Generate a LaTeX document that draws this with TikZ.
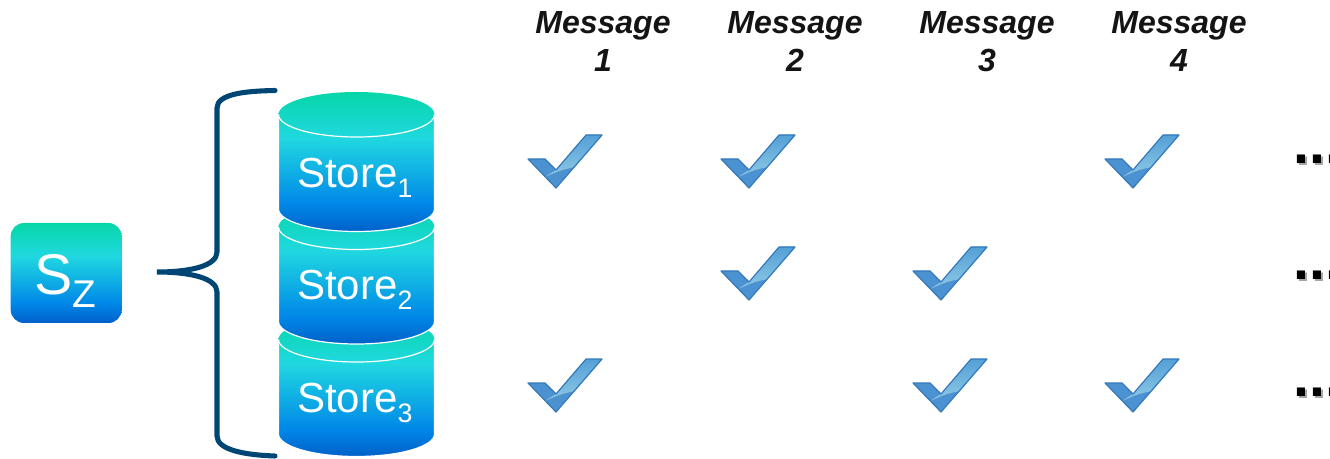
\documentclass[tikz,border=0pt]{standalone}
\usepackage{fontspec}
\setmainfont{Liberation Sans}
\usepackage{tikz}

\definecolor{bracecol}{RGB}{0,70,116}
\definecolor{checkedge}{RGB}{52,122,186}
\definecolor{checkbase}{RGB}{76,146,208}
\definecolor{checktop}{RGB}{84,160,216}
\definecolor{checklow}{RGB}{142,200,228}
\definecolor{storea}{RGB}{0,96,200}
\definecolor{storeb}{RGB}{0,136,232}
\definecolor{storec}{RGB}{32,216,224}
\definecolor{stored}{RGB}{6,214,168}
\pgfdeclareverticalshading{storeshade}{100bp}{color(0bp)=(storea); color(25bp)=(storea); color(35bp)=(storeb); color(58.5bp)=(storec); color(75bp)=(stored); color(100bp)=(stored)}
\newcommand{\lowsub}[3]{\raisebox{#1}{\fontsize{#2}{#2}\selectfont #3}}
\newcommand{\msgnum}[1]{\rule[-6pt]{0pt}{20pt}#1}
\tikzset{
  storetext/.style={text=white,inner sep=0pt,anchor=base west,font=\fontsize{31.5}{31.5}\selectfont},
  msgtext/.style={align=center,inner sep=0pt,text=black!92,font=\fontsize{24}{28.5}\selectfont\bfseries\itshape},
  dotstext/.style={inner sep=0pt,anchor=base west,font=\fontsize{43}{43}\selectfont\bfseries},
  pics/storecyl/.style={code={
    \shade[shading=storeshade] (-78,0) arc[start angle=180,end angle=0,x radius=78,y radius=22.5] -- (78,-94.5) arc[start angle=360,end angle=180,x radius=78,y radius=22.5] -- cycle;
    \draw[white,line width=0.9pt] (-78,0) arc[start angle=180,end angle=360,x radius=78,y radius=22.5];
    \draw[white,line width=0.9pt] (-78,0) -- (-78,-94.5) arc[start angle=180,end angle=360,x radius=78,y radius=22.5] -- (78,0);
  }},
  pics/checkmark/.style={code={
    \fill[checkbase] (2,-25) -- (19,-25) -- (30,-36) -- (60,-1) -- (76,-1) -- (30,-54) -- cycle;
    \shade[top color=checktop,bottom color=checklow] (19,-43) -- (30,-36) -- (60,-1) -- (76,-1) -- (49,-33) .. controls (35,-36) .. (19,-43);
    \draw[checkedge,line width=0.9pt,line join=round] (2,-25) -- (19,-25) -- (30,-36) -- (60,-1) -- (76,-1) -- (30,-54) -- cycle;
  }},
}

\begin{document}
\begin{tikzpicture}[x=0.75pt,y=0.75pt,yscale=-1,xscale=1]
\useasboundingbox (0,0) rectangle (1330,459);

%Shape: Brace
\draw [color=bracecol,line width=3.8pt,line cap=round] (275,90.5) .. controls (245,91) and (217,94) .. (217,108) -- (217,252) .. controls (217,266) and (190,272) .. (157,272) .. controls (190,272) and (217,278) .. (217,292) -- (217,436) .. controls (217,450) and (245,455) .. (275,456);

%Shape: Stores
\pic at (356.5,339.5) {storecyl};
\pic at (356.5,227) {storecyl};
\pic at (356.5,114.5) {storecyl};

%Shape: Rounded Rectangle
\shade [shading=storeshade,rounded corners=10pt] (10.7,223) rectangle (121.7,323);

% Text Node
\node [storetext] (store1) at (297,188) {Store\lowsub{-7.5pt}{20}{1}};
% Text Node
\node [storetext] (store2) at (297,300) {Store\lowsub{-7.5pt}{20}{2}};
% Text Node
\node [storetext] (store3) at (297,412) {Store\lowsub{-7.5pt}{20}{3}};
% Text Node
\node [storetext,font=\fontsize{43}{43}\selectfont] (sz) at (34,294.5) {S\lowsub{-10pt}{29}{Z}};

% Text Node
\node [msgtext] (msg1) at (603,45) {Message\\\msgnum{1}};
% Text Node
\node [msgtext] (msg2) at (795,45) {Message\\\msgnum{2}};
% Text Node
\node [msgtext] (msg3) at (987,45) {Message\\\msgnum{3}};
% Text Node
\node [msgtext] (msg4) at (1179,45) {Message\\\msgnum{4}};

%Shape: Checks
\pic at (526,134) {checkmark};
\pic at (719,134) {checkmark};
\pic at (1103,134) {checkmark};
\pic at (719,246) {checkmark};
\pic at (911,246) {checkmark};
\pic at (526,358) {checkmark};
\pic at (911,358) {checkmark};
\pic at (1103,358) {checkmark};

% Text Node
\node [dotstext,text=black!35] (dotsa) at (1295.5,165.5) {...};
\node [dotstext] (dots1) at (1293.5,163.5) {...};
% Text Node
\node [dotstext,text=black!35] (dotsb) at (1295.5,281.5) {...};
\node [dotstext] (dots2) at (1293.5,279.5) {...};
% Text Node
\node [dotstext,text=black!35] (dotsc) at (1295.5,398.5) {...};
\node [dotstext] (dots3) at (1293.5,396.5) {...};

\end{tikzpicture}
\end{document}
